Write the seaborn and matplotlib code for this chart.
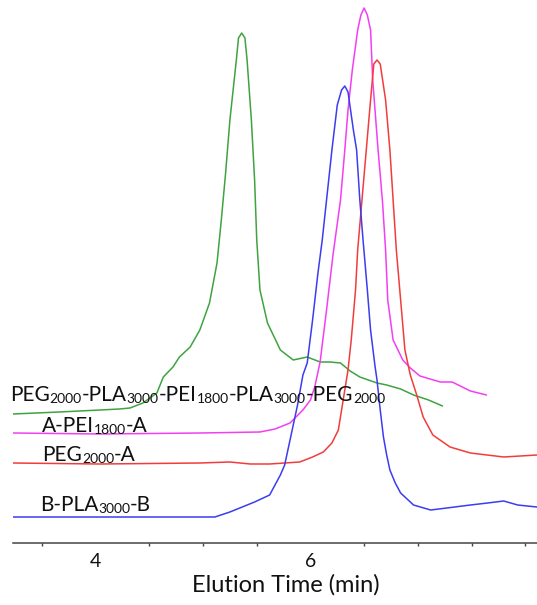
import matplotlib
matplotlib.use("Agg")
import pandas as pd
from matplotlib import pyplot as plt
from matplotlib.ticker import MultipleLocator
import seaborn as sns

# GPC traces: elution time (min) and detector signal (a.u.)
green_time = [3.23, 3.66, 4.04, 4.22, 4.32, 4.44, 4.57, 4.63, 4.72, 4.78, 4.88, 4.97,
              5.06, 5.13, 5.17, 5.21, 5.25, 5.31, 5.33, 5.36, 5.39, 5.41, 5.45, 5.48,
              5.50, 5.53, 5.60, 5.72, 5.84, 5.97, 6.09, 6.18, 6.28, 6.37, 6.46, 6.62,
              6.71, 6.84, 6.96, 7.10, 7.23]
green_signal = [25.8, 26.2, 26.6, 26.8, 27.0, 28.0, 30.0, 33.2, 35.2, 37.2, 39.2, 42.6,
                48.0, 56.0, 64.6, 74.0, 84.6, 96.6, 101.0, 102.0, 101.0, 96.6, 84.6, 72.6,
                60.6, 50.6, 44.0, 38.6, 36.6, 37.2, 36.2, 36.2, 36.0, 34.4, 33.2, 32.0,
                31.6, 30.8, 29.6, 28.6, 27.4]

magenta_time = [3.23, 4.04, 4.97, 5.53, 5.67, 5.81, 5.93, 6.00, 6.04, 6.09, 6.15, 6.21,
                6.28, 6.32, 6.35, 6.39, 6.44, 6.47, 6.50, 6.53, 6.56, 6.58, 6.63, 6.67,
                6.70, 6.72, 6.77, 6.86, 6.93, 7.02, 7.21, 7.32, 7.49, 7.64]
magenta_signal = [22.0, 21.8, 22.0, 22.2, 22.8, 24.0, 26.6, 28.6, 31.2, 36.2, 46.6, 57.6,
                  68.6, 78.6, 86.6, 94.6, 102.6, 105.6, 107.0, 105.6, 102.6, 92.6, 78.6, 68.6,
                  58.6, 48.6, 40.6, 36.6, 35.0, 33.4, 32.2, 32.2, 30.4, 29.6]

red_time = [3.23, 4.04, 4.97, 5.25, 5.44, 5.62, 5.90, 6.02, 6.12, 6.20, 6.26, 6.29,
            6.32, 6.35, 6.38, 6.42, 6.44, 6.48, 6.52, 6.56, 6.59, 6.62, 6.65, 6.70,
            6.74, 6.77, 6.80, 6.84, 6.88, 6.93, 6.99, 7.05, 7.14, 7.30, 7.49, 7.80, 8.11]
red_signal = [16.0, 15.8, 16.0, 16.2, 15.8, 15.8, 16.2, 17.2, 18.2, 20.0, 22.6, 26.6,
              30.6, 34.6, 40.6, 50.6, 58.6, 68.6, 78.6, 88.6, 95.8, 96.6, 95.8, 88.6,
              78.6, 68.6, 58.6, 48.6, 38.6, 33.6, 29.6, 25.2, 21.6, 19.2, 18.0, 17.2, 17.6]

blue_time = [3.23, 4.04, 5.11, 5.25, 5.48, 5.62, 5.72, 5.76, 5.81, 5.88, 5.93, 5.97,
             6.02, 6.07, 6.11, 6.15, 6.20, 6.25, 6.29, 6.32, 6.35, 6.40, 6.43, 6.46,
             6.49, 6.53, 6.56, 6.60, 6.62, 6.65, 6.68, 6.71, 6.74, 6.79, 6.84, 6.96,
             7.12, 7.27, 7.49, 7.65, 7.80, 7.93, 8.11]
blue_signal = [5.2, 5.2, 5.2, 6.2, 8.2, 9.6, 13.6, 15.6, 20.6, 27.6, 33.6, 36.0,
               44.6, 54.0, 60.6, 68.6, 78.6, 87.6, 90.6, 91.4, 90.2, 82.6, 78.6, 68.6,
               60.6, 50.6, 42.6, 35.6, 32.6, 26.6, 21.2, 17.6, 14.6, 12.0, 10.0, 7.6,
               6.6, 7.0, 7.6, 8.0, 8.4, 7.6, 7.2]

samples = ["PEG-PLA-PEI-PLA-PEG", "A-PEI-A", "PEG-A", "B-PLA-B"]
colors = ["#3fa33f", "#f23ff2", "#f23c3c", "#3c3cf0"]

# label pieces: (text, is_subscript); label anchor (time, signal)
label_parts = [
    [("PEG", 0), ("2000", 1), ("-PLA", 0), ("3000", 1), ("-PEI", 0), ("1800", 1),
     ("-PLA", 0), ("3000", 1), ("-PEG", 0), ("2000", 1)],
    [("A-PEI", 0), ("1800", 1), ("-A", 0)],
    [("PEG", 0), ("2000", 1), ("-A", 0)],
    [("B-PLA", 0), ("3000", 1), ("-B", 0)],
]
label_time = [3.20, 3.50, 3.50, 3.48]
label_signal = [28.4, 22.2, 16.4, 6.4]

xticks_major = [4, 6]

frames = []
for name, t, s in zip(samples,
                      [green_time, magenta_time, red_time, blue_time],
                      [green_signal, magenta_signal, red_signal, blue_signal]):
    frames.append(pd.DataFrame({"time": t, "signal": s, "sample": name}))
traces = pd.concat(frames, ignore_index=True)

sns.set_style("white")
plt.rcParams["font.family"] = ["Lato", "DejaVu Sans"]

fig = plt.figure(figsize=(5.37, 6.05), dpi=100)
ax = fig.add_axes([13 / 537, 62 / 605, 524 / 537, 543 / 605])

sns.lineplot(data=traces, x="time", y="signal", hue="sample",
             palette=dict(zip(samples, colors)), sort=False, estimator=None,
             legend=False, linewidth=1.1, ax=ax)

ax.set_xlim(3.23, 8.11)
ax.set_ylim(0, 108.6)
for side in ["left", "right", "top"]:
    ax.spines[side].set_visible(False)
ax.spines["bottom"].set_color("#444444")
ax.spines["bottom"].set_linewidth(1.1)
ax.set_yticks([])
ax.set_ylabel("")
ax.set_xticks(xticks_major)
ax.xaxis.set_minor_locator(MultipleLocator(0.5))
ax.tick_params(axis="x", which="major", direction="out", length=5, width=1,
               color="#444444", labelsize=14, pad=2, labelcolor="#111111")
ax.tick_params(axis="x", which="minor", direction="out", length=2.5, width=1,
               color="#444444", bottom=True)
ax.set_xlabel("Elution Time (min)", fontsize=17, color="#111111")
ax.xaxis.set_label_coords(0.52, -0.058)

for parts, tx, sy in zip(label_parts, label_time, label_signal):
    prev = None
    for text, sub in parts:
        size = 10 if sub else 15
        if prev is None:
            prev = ax.text(tx, sy, text, fontsize=size, ha="left", va="baseline",
                           color="#111111", clip_on=False)
        else:
            prev = ax.annotate(text, xy=(1, 0), xycoords=prev, fontsize=size,
                               ha="left", va="bottom", color="#111111")

fig.savefig("out.png", dpi=100)
